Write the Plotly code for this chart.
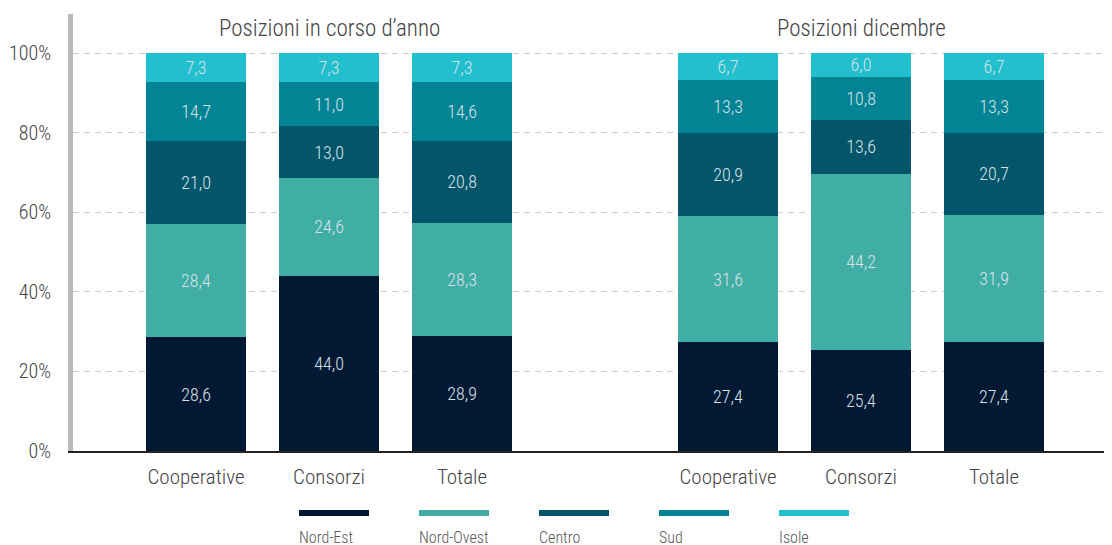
import plotly.graph_objects as go

categories = ["Cooperative", "Consorzi", "Totale", "Cooperative", "Consorzi", "Totale"]
positions = [0, 1, 2, 4, 5, 6]
group_titles = ["Posizioni in corso d’anno", "Posizioni dicembre"]

series = ["Nord-Est", "Nord-Ovest", "Centro", "Sud", "Isole"]
nord_est = [28.6, 44.0, 28.9, 27.4, 25.4, 27.4]
nord_ovest = [28.4, 24.6, 28.3, 31.6, 44.2, 31.9]
centro = [21.0, 13.0, 20.8, 20.9, 13.6, 20.7]
sud = [14.7, 11.0, 14.6, 13.3, 10.8, 13.3]
isole = [7.3, 7.3, 7.3, 6.7, 6.0, 6.7]

colors = ["#021833", "#40aea5", "#03566a", "#038494", "#22bfce"]
FONT = "Roboto Condensed, DejaVu Sans Condensed, sans-serif"

# page body has an 8px margin, so figure coords = screen coords - 8
SH = 8
L, R, T, B = 73 - SH, 1110 - SH, 14 - SH, 451 - SH
W, H = 1112, 545

fig = go.Figure()
for name, vals, col in zip(series, [nord_est, nord_ovest, centro, sud, isole], colors):
    fig.add_trace(go.Bar(
        x=positions, y=vals, name=name,
        marker=dict(color=col, line=dict(width=0)),
        width=0.752,
        text=[f"{v:.1f}".replace(".", ",") for v in vals],
        textposition="inside", insidetextanchor="middle", textangle=0,
        insidetextfont=dict(color="#d8e1e9", size=18, family=FONT, weight=300),
        showlegend=False,
    ))

# custom legend: line swatch above the label
for i, (name, col) in enumerate(zip(series, colors)):
    x0 = 299 - SH + i * 120
    fig.add_shape(type="rect", xref="paper", yref="paper",
                  x0=(x0 - L) / (R - L), x1=(x0 + 70 - L) / (R - L),
                  y0=-(516 - SH - B) / (B - T), y1=-(510 - SH - B) / (B - T),
                  fillcolor=col, line=dict(width=0))
    fig.add_annotation(text=name, xref="paper", yref="paper",
                       x=(x0 - L) / (R - L), y=-(537 - SH - B) / (B - T),
                       xanchor="left", yanchor="middle", showarrow=False, xshift=-2,
                       font=dict(size=16, color="#555", family=FONT, weight=300))

for t, xc in zip(group_titles, [1, 5]):
    fig.add_annotation(text=t, x=xc, xref="x", y=1.0, yref="paper",
                       yanchor="middle", yshift=-14, showarrow=False,
                       font=dict(size=23, color="#444", family=FONT, weight=300))

fig.update_layout(
    barmode="stack",
    width=W, height=H,
    margin=dict(l=L, r=W - R, t=T, b=H - B),
    plot_bgcolor="white", paper_bgcolor="white",
    font=dict(family=FONT, color="#444", weight=300),
    uniformtext=dict(minsize=18, mode="show"),
    xaxis=dict(range=[-0.925, 6.872], tickvals=positions, ticktext=categories,
               showline=True, linecolor="#222", linewidth=1.5, ticks="",
               tickfont=dict(size=21, color="#444", family=FONT, weight=300),
               ticklabelstandoff=6,
               showgrid=False, zeroline=False, automargin=False),
    yaxis=dict(range=[0, 109.8], tickvals=[0, 20, 40, 60, 80, 100],
               ticktext=["0%", "20%", "40%", "60%", "80%", "100%"],
               tickfont=dict(size=20, color="#444", family=FONT, weight=300),
               showline=True, linecolor="#bbbbbb", linewidth=5,
               showgrid=True, gridcolor="#cccccc", griddash="6px,5px", gridwidth=1,
               zeroline=False, ticks="", ticklabelstandoff=13, automargin=False),
)

fig.write_html("out.html")
